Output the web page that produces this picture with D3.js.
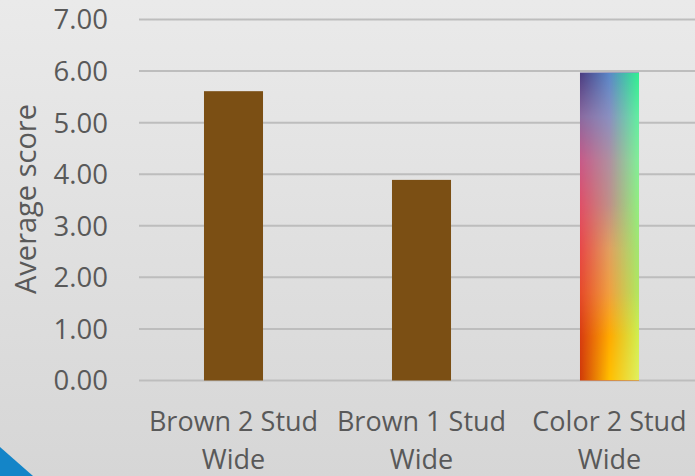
<!DOCTYPE html>
<html>
<head>
<meta charset="utf-8">
<script src="https://d3js.org/d3.v7.min.js"></script>
<style>
  html, body { margin: 0; padding: 0; overflow: hidden; }
  svg { display: block; }
  text { font-family: "Open Sans", sans-serif; fill: #595959; }
</style>
</head>
<body>
<svg id="chart" width="695" height="476"></svg>
<script>
// chart data
const categories = ["Brown 2 Stud Wide", "Brown 1 Stud Wide", "Color 2 Stud Wide"];
const labelLines = [["Brown 2 Stud", "Wide"], ["Brown 1 Stud", "Wide"], ["Color 2 Stud", "Wide"]];
const scores = [5.61, 3.89, 5.97];
const yTicks = [0, 1, 2, 3, 4, 5, 6, 7];
const yLabel = "Average score";

const W = 695, H = 476;
const svg = d3.select("#chart");
const defs = svg.append("defs");

// background gradient
const bg = defs.append("linearGradient").attr("id", "bg")
  .attr("x1", 0).attr("y1", 0).attr("x2", 0).attr("y2", 1);
bg.append("stop").attr("offset", "0%").attr("stop-color", "#eaeaea");
bg.append("stop").attr("offset", "100%").attr("stop-color", "#d6d6d6");
svg.append("rect").attr("width", W).attr("height", H).attr("fill", "url(#bg)");

// blue corner
svg.append("path").attr("d", "M0,447 L33,476 L0,476 Z").attr("fill", "#1485c8");

const x = d3.scaleBand().domain(categories).range([139.5, 703.5])
  .paddingInner(0.686).paddingOuter(0.343);
const y = d3.scaleLinear().domain([0, 7]).range([380.5, 19.5]);

// gridlines
svg.append("g").selectAll("line").data(yTicks).join("line")
  .attr("x1", 139).attr("x2", W)
  .attr("y1", d => y(d)).attr("y2", d => y(d))
  .attr("stroke", "#bdbdbd").attr("stroke-width", 2);

// tick labels
svg.append("g").selectAll("text").data(yTicks).join("text")
  .attr("x", 108).attr("y", d => y(d)).attr("dy", "0.36em")
  .attr("text-anchor", "end").attr("font-size", 27.5)
  .text(d => d.toFixed(2));

// y axis title
svg.append("text")
  .attr("transform", "translate(36,199) rotate(-90)")
  .attr("text-anchor", "middle").attr("font-size", 29)
  .text(yLabel);

// gradient columns for the colour bar
const cols = {
  L: ["#4a3c80", "#8a6aa0", "#c85a88", "#e05068", "#e84848", "#e64a2a", "#d83c10", "#d03a08"],
  M: ["#5a88c8", "#8a90c0", "#b090a0", "#c09088", "#e0a060", "#f0a040", "#ffaa00", "#ffc000"],
  R: ["#30f090", "#60f0a0", "#80f098", "#90f080", "#a0e870", "#b0e860", "#d0f050", "#e0f060"]
};
Object.entries(cols).forEach(([k, arr]) => {
  const g = defs.append("linearGradient").attr("id", "col" + k)
    .attr("x1", 0).attr("y1", 0).attr("x2", 0).attr("y2", 1);
  arr.forEach((c, i) => g.append("stop")
    .attr("offset", (i / (arr.length - 1) * 100) + "%").attr("stop-color", c));
});
function ramp(id, stops) {
  const g = defs.append("linearGradient").attr("id", id)
    .attr("x1", 0).attr("y1", 0).attr("x2", 1).attr("y2", 0);
  stops.forEach(s => g.append("stop").attr("offset", s[0]).attr("stop-color", "#fff").attr("stop-opacity", s[1]));
  return g;
}
ramp("rampM", [["0%", 0], ["50%", 1], ["100%", 1]]);
ramp("rampR", [["50%", 0], ["100%", 1]]);
["M", "R"].forEach(k => {
  defs.append("mask").attr("id", "mask" + k)
    .attr("maskContentUnits", "objectBoundingBox")
    .append("rect").attr("width", 1).attr("height", 1).attr("fill", "url(#ramp" + k + ")");
});

// bars
const bars = svg.append("g");
categories.forEach((c, i) => {
  const bx = x(c), bw = x.bandwidth(), by = y(scores[i]), bh = y(0) - y(scores[i]);
  if (i < 2) {
    bars.append("rect").attr("x", bx).attr("y", by).attr("width", bw).attr("height", bh)
      .attr("fill", "#7b4f14");
  } else {
    bars.append("rect").attr("x", bx).attr("y", by).attr("width", bw).attr("height", bh)
      .attr("fill", "url(#colL)");
    ["M", "R"].forEach(k => {
      bars.append("rect").attr("x", bx).attr("y", by).attr("width", bw).attr("height", bh)
        .attr("fill", "url(#col" + k + ")").attr("mask", "url(#mask" + k + ")");
    });
  }
});

// x labels
const xl = svg.append("g");
categories.forEach((c, i) => {
  const t = xl.append("text").attr("text-anchor", "middle").attr("font-size", 27)
    .attr("x", x(c) + x.bandwidth() / 2).attr("y", 431);
  labelLines[i].forEach((ln, j) => {
    t.append("tspan").attr("x", x(c) + x.bandwidth() / 2).attr("dy", j ? 38 : 0).text(ln);
  });
});
</script>
</body>
</html>
